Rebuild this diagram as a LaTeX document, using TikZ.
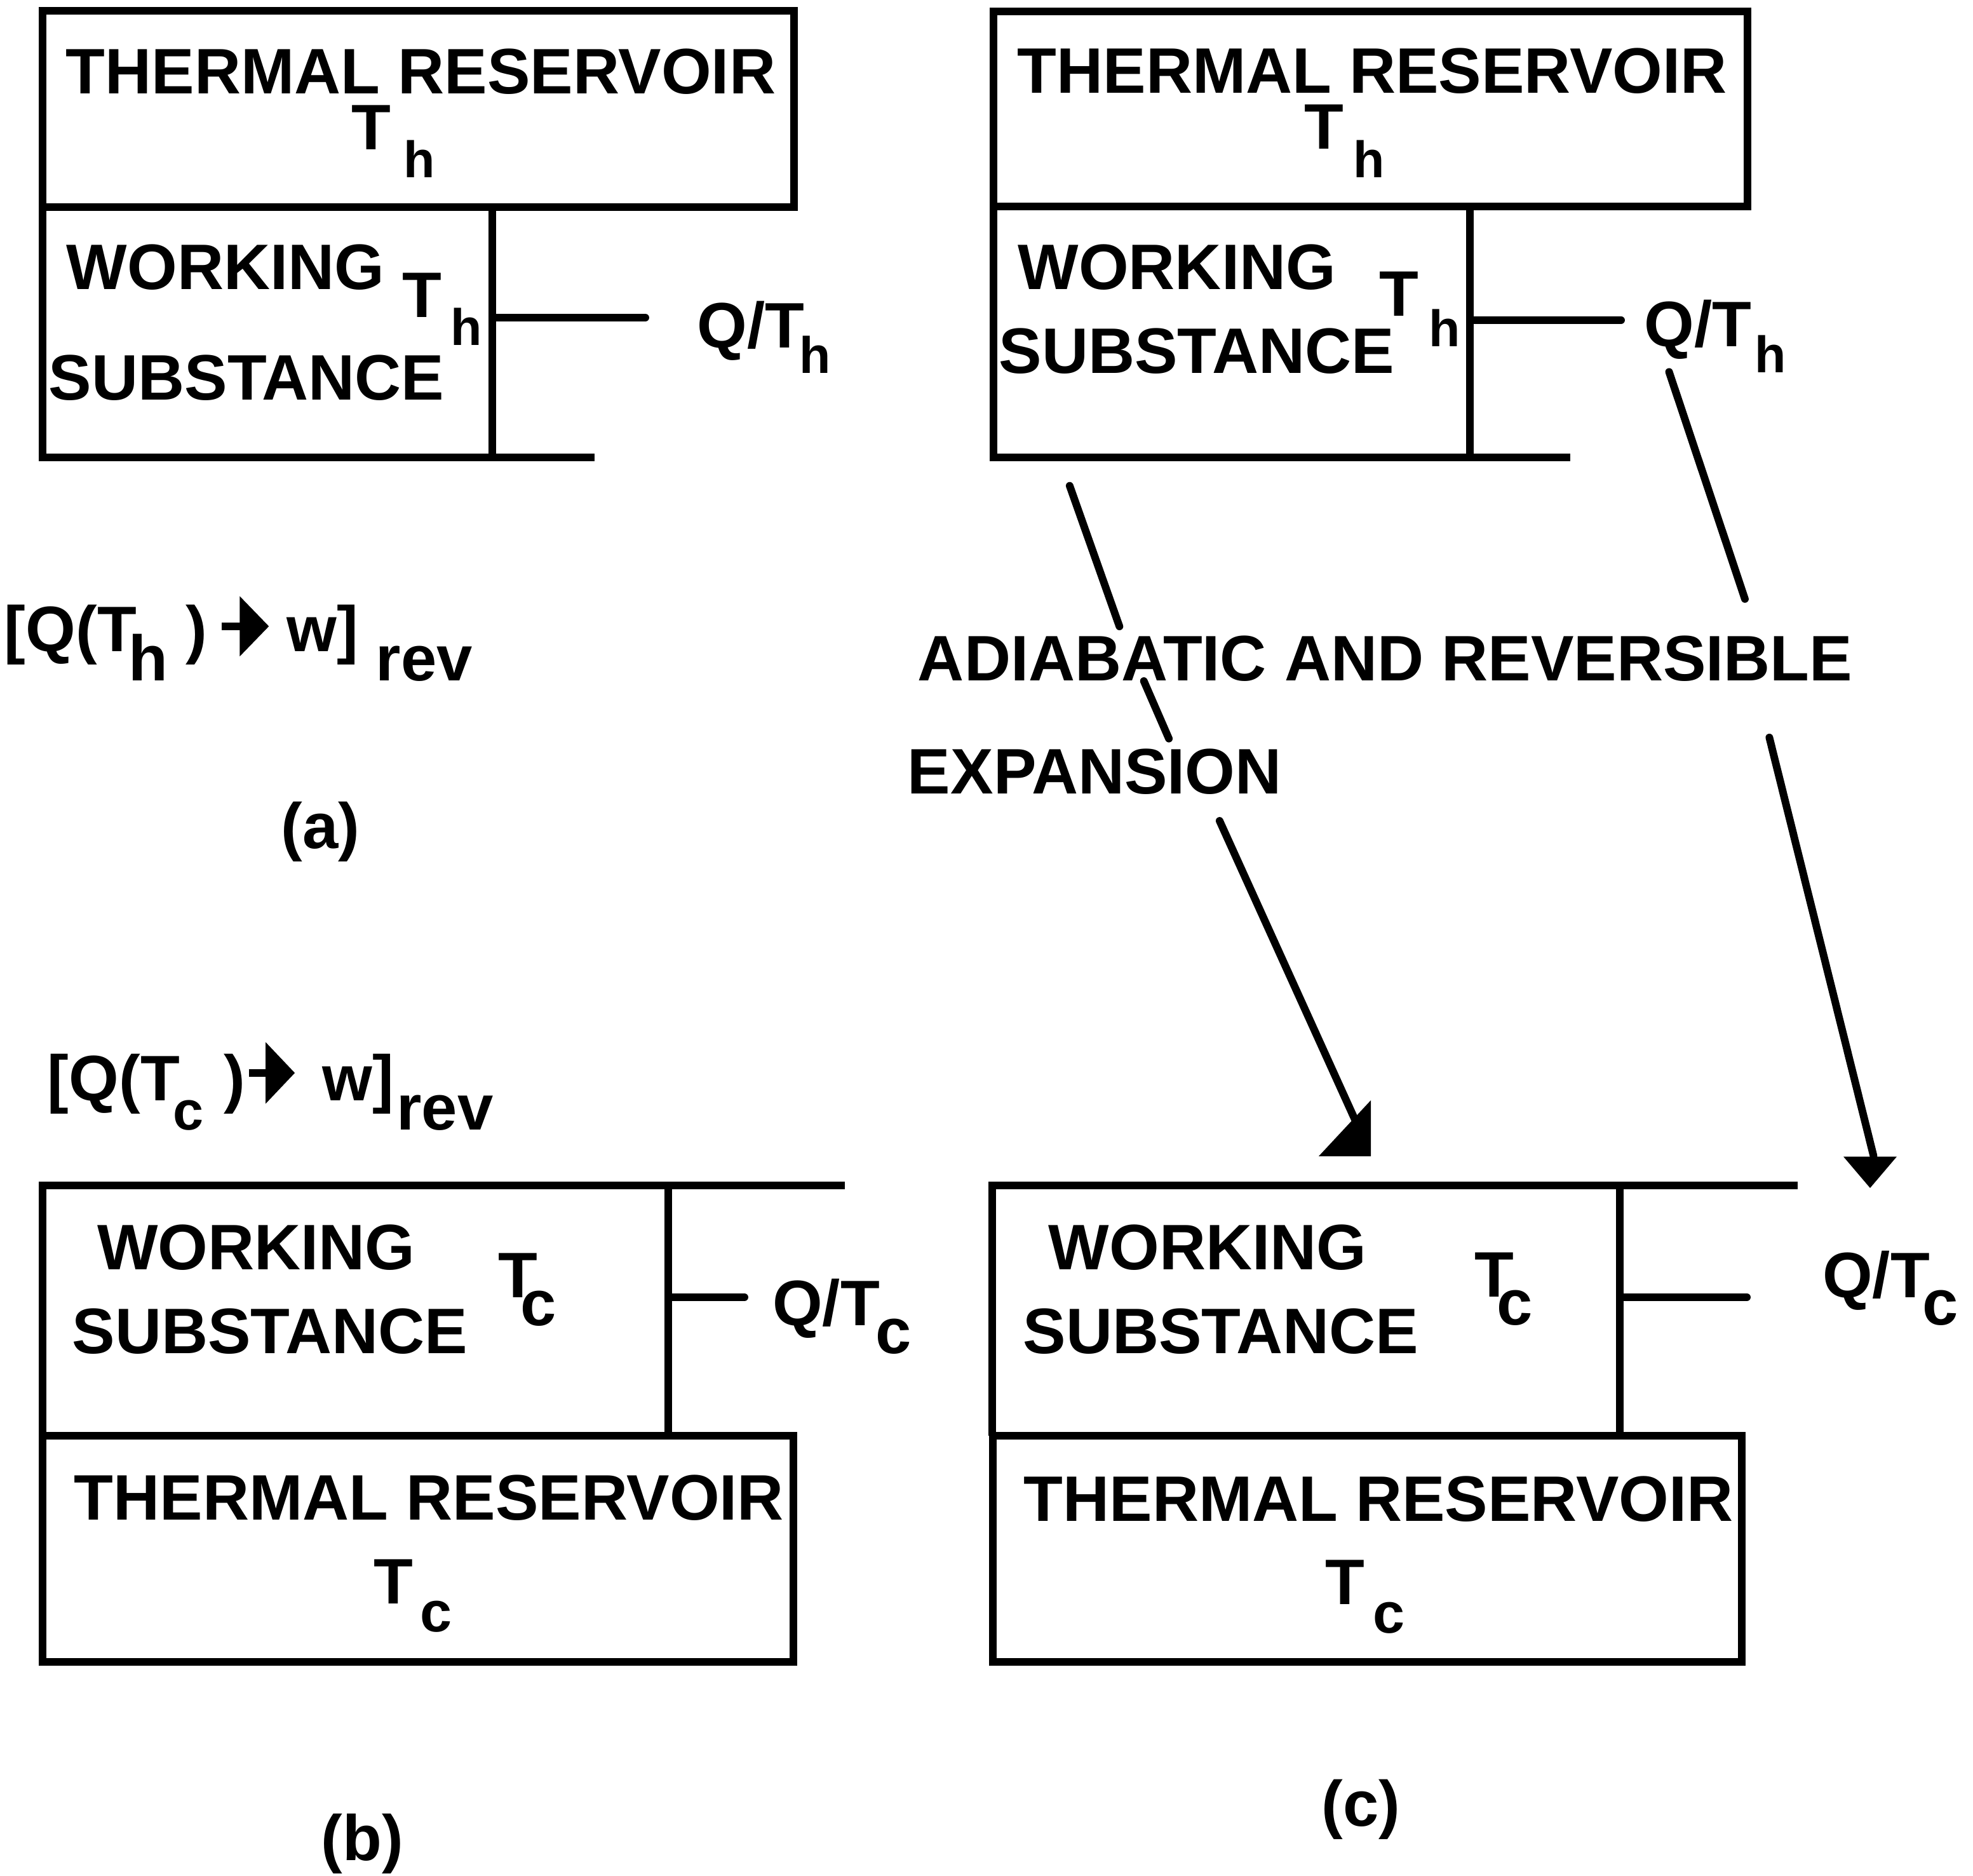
\documentclass[tikz,border=0pt]{standalone}
\usepackage{fontspec}
\setmainfont{Liberation Sans}
\usepackage{tikz}
\usetikzlibrary{arrows.meta,calc}

% lowered index letter: gap, drop, text
\newcommand{\subl}[3]{\hspace{#1}\raisebox{-#2}{#3}}
\newcommand{\smf}{\fontsize{11.5}{12}\selectfont}
\newcommand{\smc}{\fontsize{12.8}{13}\selectfont}
\newcommand{\tnc}{\fontsize{12.3}{13}\selectfont}

\begin{document}
\begin{tikzpicture}[scale=0.1, line width=1.7pt]
\tikzstyle{every node}+=[inner sep=0pt, anchor=base west, font=\bfseries\fontsize{14.4}{17}\selectfont]
\useasboundingbox (0,0) rectangle (155.3,-147.65);
% (a) hot reservoir and working substance
\draw [black] (3.35,-0.85) rectangle (62.5,-16.3);
\draw [black] (3.35,-16.3) -- (3.35,-36) -- (46.8,-36);
\draw [black] (38.75,-16.3) -- (38.75,-36);
\draw [black, line cap=round] (38.75,-25) -- (50.8,-25);
\node (resA) at (4.9,-7.4) {THERMAL RESERVOIR};
\node (resAT) at (27.4,-11.8) {T\subl{1mm}{2.2mm}{\smf h}};
\node (wsA1) at (4.95,-22.8) {WORKING};
\node (wsA2) at (3.55,-31.5) {SUBSTANCE};
\node (wsAT) at (31.4,-24.96) {T\subl{0.7mm}{2.2mm}{\smf h}};
\node (qA) at (54.57,-27.4) {Q/T\subl{-0.4mm}{2mm}{\smf h}};
\node (fa1) at (0.05,-51.3) {[Q(T\subl{-0.63mm}{2.3mm}{h} )};
\node (fa2) at (22.27,-51.3) {w] \raisebox{-2.3mm}{rev}};
\draw [black, -{Triangle[length=2.3mm,width=4.6mm]}, shorten <=0.87mm, shorten >=1.1mm] ($(fa1.base east)+(0,2.01)$) -- ($(fa2.base west)+(0,2.01)$);
\node (labA) at (21.84,-66.76) {(a)};
% (b) cold reservoir
\draw [black] (66.5,-93.3) -- (3.35,-93.3) -- (3.35,-113);
\draw [black] (52.6,-93.3) -- (52.6,-113);
\draw [black, line cap=round] (52.6,-102.1) -- (58.6,-102.1);
\draw [black] (3.35,-113) rectangle (62.45,-130.8);
\node (fc1) at (3.45,-86.6) {[Q(T\subl{-0.53mm}{2.3mm}{\tnc c}\hspace{1.58mm})};
\node (fc2) at (25.08,-86.6) {w]\subl{0.23mm}{2.3mm}{rev}};
\draw [black, -{Triangle[length=2.3mm,width=4.7mm]}, shorten >=1.87mm] ($(fc1.base east)+(0,2.16)$) -- ($(fc2.base west)+(0,2.16)$);
\node (wsB1) at (7.36,-99.93) {WORKING};
\node (wsB2) at (5.39,-106.54) {SUBSTANCE};
\node (wsBT) at (38.93,-102.13) {T\subl{-1.37mm}{2.2mm}{c}};
\node (qB) at (60.51,-104.34) {Q/T\subl{-0.3mm}{2.2mm}{c}};
\node (resB) at (5.54,-119.6) {THERMAL RESERVOIR};
\node (resBT) at (29.13,-126.2) {T\subl{0.55mm}{2.2mm}{\smc c}};
\node (labB) at (25,-146.4) {(b)};
% (c) hot side before the expansion
\draw [black] (78.2,-0.88) rectangle (137.55,-16.26);
\draw [black] (78.2,-16.26) -- (78.2,-36) -- (123.6,-36);
\draw [black] (115.7,-16.26) -- (115.7,-36);
\draw [black, line cap=round] (115.7,-25.2) -- (127.6,-25.2);
\node (resD) at (79.78,-7.33) {THERMAL RESERVOIR};
\node (resDT) at (102.4,-11.74) {T\subl{0.73mm}{2.23mm}{\smf h}};
\node (wsD1) at (79.83,-22.8) {WORKING};
\node (wsD2) at (78.34,-29.4) {SUBSTANCE};
\node (wsDT) at (108.3,-24.87) {T\subl{0.8mm}{2.4mm}{\smf h}};
\node (qD) at (129.12,-27.3) {Q/T\subl{0.28mm}{2.04mm}{\smf h}};
\node (adia) at (71.95,-53.6) {ADIABATIC AND REVERSIBLE};
\node (expa) at (71.15,-62.46) {EXPANSION};
% broken arrows through the text
\coordinate (la1) at (84.19,-38.23);
\coordinate (la2) at (88.11,-49.3);
\coordinate (la3) at (90.03,-53.6);
\coordinate (la4) at (92,-58.13);
\coordinate (la5) at (95.99,-64.6);
\coordinate (la6) at (106.77,-88.39);
\draw [black, line cap=round] (la1) -- (la2);
\draw [black, line cap=round] (la3) -- (la4);
\draw [black, line cap=round] (la5) -- (la6);
\fill [black] (103.8,-91) -- (107.9,-91) -- (107.9,-86.6);
\coordinate (ra1) at (131.37,-29.27);
\coordinate (ra2) at (137.34,-47.14);
\coordinate (ra3) at (139.26,-58.04);
\coordinate (ra4) at (147.46,-90.96);
\draw [black, line cap=round] (ra1) -- (ra2);
\draw [black, line cap=round] (ra3) -- (ra4);
\fill [black] (145.1,-91.03) -- (149.3,-91.03) -- (147.2,-93.5);
% (c) cold side after the expansion
\draw [black] (141.5,-93.3) -- (78.1,-93.3) -- (78.1,-113);
\draw [black] (127.5,-93.3) -- (127.5,-113);
\draw [black, line cap=round] (127.5,-102.1) -- (137.5,-102.1);
\draw [black] (78.15,-113) rectangle (137.1,-130.8);
\node (wsC1) at (82.25,-99.9) {WORKING};
\node (wsC2) at (80.23,-106.5) {SUBSTANCE};
\node (wsCT) at (115.8,-102.05) {T\subl{-1.35mm}{2.23mm}{c}};
\node (qC) at (143.16,-102.12) {Q/T\subl{-0.55mm}{2.16mm}{c}};
\node (resC) at (80.28,-119.7) {THERMAL RESERVOIR};
\node (resCT) at (104.05,-126.25) {T\subl{0.64mm}{2.28mm}{\smc c}};
\node (labC) at (103.75,-143.7) {(c)};
\end{tikzpicture}
\end{document}
